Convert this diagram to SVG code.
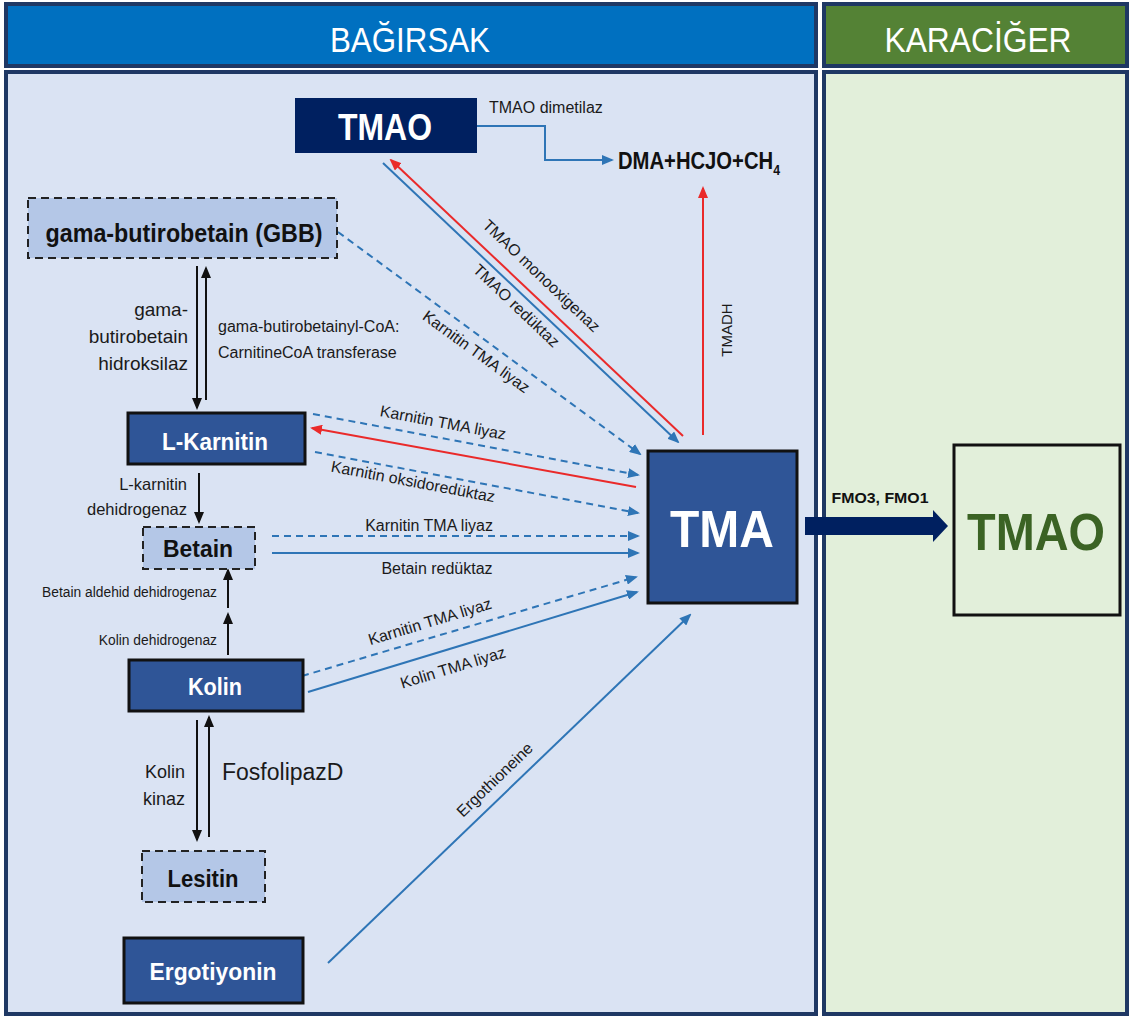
<svg xmlns="http://www.w3.org/2000/svg" width="1131" height="1019" viewBox="0 0 1131 1019">
<style>
.lbl{font-family:"Liberation Sans",Arial,sans-serif;font-size:16px;fill:#1a1a1a}
.sm{font-family:"Liberation Sans",Arial,sans-serif;font-size:13.8px;fill:#1a1a1a}
.nd{font-family:"Liberation Sans",Arial,sans-serif;font-weight:bold;font-size:24px;text-anchor:middle}
.w{fill:#ffffff}
.k{fill:#111111}
.solidnode{fill:#2f5597;stroke:#111111;stroke-width:3}
.dashnode{fill:#b4c7e7;stroke:#222222;stroke-width:2;stroke-dasharray:8,5}
.bl{stroke:#2e75b6;stroke-width:2;fill:none;marker-end:url(#ab)}
.bld{stroke:#2e75b6;stroke-width:2;fill:none;stroke-dasharray:7,5;marker-end:url(#ab)}
.rd{stroke:#ea2a2a;stroke-width:2;fill:none;marker-end:url(#ar)}
.bk{stroke:#111111;stroke-width:2;fill:none;marker-end:url(#ak)}
.hdr{font-family:"Liberation Sans",Arial,sans-serif;font-size:35px;fill:#ffffff;text-anchor:middle}
</style>
<defs>
<marker id="ab" viewBox="0 0 12 10" refX="10" refY="5" markerWidth="12" markerHeight="10" markerUnits="userSpaceOnUse" orient="auto"><path d="M0,0 L12,5 L0,10 z" fill="#2e75b6"/></marker>
<marker id="ar" viewBox="0 0 12 10" refX="10" refY="5" markerWidth="12" markerHeight="10" markerUnits="userSpaceOnUse" orient="auto"><path d="M0,0 L12,5 L0,10 z" fill="#ea2a2a"/></marker>
<marker id="ak" viewBox="0 0 12 10" refX="10" refY="5" markerWidth="12" markerHeight="10" markerUnits="userSpaceOnUse" orient="auto"><path d="M0,0 L12,5 L0,10 z" fill="#111111"/></marker>
</defs>
<rect x="0" y="0" width="1131" height="1019" fill="#ffffff"/>
<g id="headers">
<rect x="6" y="4" width="810" height="62" fill="#0070c0" stroke="#1f3864" stroke-width="4"/>
<text class="hdr" x="410" y="52" textLength="160" lengthAdjust="spacingAndGlyphs">BAĞIRSAK</text>
<rect x="824" y="4" width="303" height="62" fill="#548235" stroke="#1f3864" stroke-width="4"/>
<text class="hdr" x="978" y="52" textLength="187" lengthAdjust="spacingAndGlyphs">KARACİĞER</text>
</g>
<g id="panels">
<rect x="6" y="72" width="810" height="942" fill="#dae3f3" stroke="#1f3864" stroke-width="4"/>
<rect x="824" y="72" width="303" height="942" fill="#e2efda" stroke="#1f3864" stroke-width="4"/>
</g>
<g id="connectors">
<polyline class="bl" points="477,126 545,126 545,160 612,160"/>
<line class="rd" x1="703" y1="435" x2="703" y2="188"/>
<line class="rd" x1="683" y1="436" x2="391" y2="160"/>
<line class="bl" x1="383" y1="163" x2="678" y2="442"/>
<line class="bld" x1="338" y1="232" x2="640" y2="454"/>
<line class="bld" x1="313" y1="414" x2="638" y2="475"/>
<line class="rd" x1="636" y1="487" x2="312" y2="428"/>
<line class="bld" x1="315" y1="452" x2="638" y2="513"/>
<line class="bld" x1="272" y1="536" x2="638" y2="536"/>
<line class="bl" x1="272" y1="553" x2="638" y2="553"/>
<line class="bld" x1="302" y1="676" x2="636" y2="577"/>
<line class="bl" x1="308" y1="692" x2="637" y2="592"/>
<line class="bl" x1="328" y1="963" x2="690" y2="615"/>
<polygon points="805,517 933,517 933,510 948,526 933,542 933,535 805,535" fill="#002060"/>
<line class="bk" x1="197" y1="266" x2="197" y2="408"/>
<line class="bk" x1="206" y1="400" x2="206" y2="268"/>
<line class="bk" x1="199" y1="473" x2="199" y2="522"/>
<line class="bk" x1="228" y1="608" x2="228" y2="570"/>
<line class="bk" x1="228" y1="655" x2="228" y2="614"/>
<line class="bk" x1="197" y1="720" x2="197" y2="840"/>
<line class="bk" x1="209" y1="837" x2="209" y2="717"/>
</g>
<g id="connector-labels">
<text class="lbl" x="489" y="113">TMAO dimetilaz</text>
<text class="lbl" transform="translate(727,330) rotate(-90)" text-anchor="middle" dy="5" style="font-size:15px">TMADH</text>
<text class="lbl" transform="translate(541,276) rotate(43.5)" text-anchor="middle" dy="5">TMAO monooxigenaz</text>
<text class="lbl" transform="translate(516,306) rotate(43.5)" text-anchor="middle" dy="5">TMAO redüktaz</text>
<text class="lbl" transform="translate(476,352) rotate(36)" text-anchor="middle" dy="5">Karnitin TMA liyaz</text>
<text class="lbl" transform="translate(443,423) rotate(10.7)" text-anchor="middle" dy="5">Karnitin TMA liyaz</text>
<text class="lbl" transform="translate(413,482) rotate(10.7)" text-anchor="middle" dy="5">Karnitin oksidoredüktaz</text>
<text class="lbl" x="429" y="531" text-anchor="middle">Karnitin TMA liyaz</text>
<text class="lbl" x="437" y="574" text-anchor="middle">Betain redüktaz</text>
<text class="lbl" transform="translate(430,622) rotate(-16.9)" text-anchor="middle" dy="5">Karnitin TMA liyaz</text>
<text class="lbl" transform="translate(453,668) rotate(-16.9)" text-anchor="middle" dy="5">Kolin TMA liyaz</text>
<text class="lbl" transform="translate(495,780) rotate(-44)" text-anchor="middle" dy="5">Ergothioneine</text>
<text class="lbl" x="188" y="316" text-anchor="end" style="font-size:19px">gama-</text>
<text class="lbl" x="188" y="343" text-anchor="end" style="font-size:19px">butirobetain</text>
<text class="lbl" x="188" y="370" text-anchor="end" style="font-size:19px">hidroksilaz</text>
<text class="lbl" x="218" y="332">gama-butirobetainyl-CoA:</text>
<text class="lbl" x="218" y="358">CarnitineCoA transferase</text>
<text class="lbl" x="187" y="490" text-anchor="end" style="font-size:16.5px">L-karnitin</text>
<text class="lbl" x="187" y="515" text-anchor="end" style="font-size:16.5px">dehidrogenaz</text>
<text class="sm" x="217" y="597" text-anchor="end">Betain aldehid dehidrogenaz</text>
<text class="sm" x="217" y="645" text-anchor="end">Kolin dehidrogenaz</text>
<text class="lbl" x="185" y="778" text-anchor="end" style="font-size:18px">Kolin</text>
<text class="lbl" x="185" y="805" text-anchor="end" style="font-size:18px">kinaz</text>
<text class="lbl" x="222" y="780" style="font-size:23px">FosfolipazD</text>
<text class="nd k" x="880" y="503" style="font-size:15px" textLength="97" lengthAdjust="spacingAndGlyphs">FMO3, FMO1</text>
</g>
<g id="node-tmao-top">
<rect x="295" y="98" width="182" height="55" fill="#002060"/>
<text class="nd w" x="385" y="140" style="font-size:36px" textLength="94" lengthAdjust="spacingAndGlyphs">TMAO</text>
</g>
<g id="node-dma">
<text class="nd k" transform="translate(618,169) scale(0.88,1)" style="text-anchor:start;font-size:23px">DMA+HCJO+CH<tspan dy="6" style="font-size:14px">4</tspan></text>
</g>
<g id="node-gbb">
<rect class="dashnode" x="28" y="198" width="309" height="60"/>
<text class="nd k" x="184" y="242" style="font-size:25px" textLength="277" lengthAdjust="spacingAndGlyphs">gama-butirobetain (GBB)</text>
</g>
<g id="node-lkarnitin">
<rect class="solidnode" x="128" y="413" width="177" height="51"/>
<text class="nd w" x="215" y="450" textLength="106" lengthAdjust="spacingAndGlyphs">L-Karnitin</text>
</g>
<g id="node-betain">
<rect class="dashnode" x="143" y="527" width="112" height="42"/>
<text class="nd k" x="198" y="557" textLength="70" lengthAdjust="spacingAndGlyphs">Betain</text>
</g>
<g id="node-kolin">
<rect class="solidnode" x="129" y="660" width="174" height="51"/>
<text class="nd w" x="215" y="695" textLength="54" lengthAdjust="spacingAndGlyphs">Kolin</text>
</g>
<g id="node-lesitin">
<rect class="dashnode" x="142" y="851" width="123" height="51"/>
<text class="nd k" x="203" y="887" textLength="71" lengthAdjust="spacingAndGlyphs">Lesitin</text>
</g>
<g id="node-ergotiyonin">
<rect class="solidnode" x="124" y="938" width="179" height="65"/>
<text class="nd w" x="213" y="980" textLength="127" lengthAdjust="spacingAndGlyphs">Ergotiyonin</text>
</g>
<g id="node-tma">
<rect class="solidnode" x="648" y="451" width="149" height="152"/>
<text class="nd w" x="722" y="547" style="font-size:52px" textLength="104" lengthAdjust="spacingAndGlyphs">TMA</text>
</g>
<g id="node-tmao-liver">
<rect x="954" y="445" width="166" height="170" fill="#e2efda" stroke="#111111" stroke-width="3"/>
<text class="nd" x="1036" y="550" style="font-size:52px;fill:#3b6324" textLength="138" lengthAdjust="spacingAndGlyphs">TMAO</text>
</g>
</svg>
